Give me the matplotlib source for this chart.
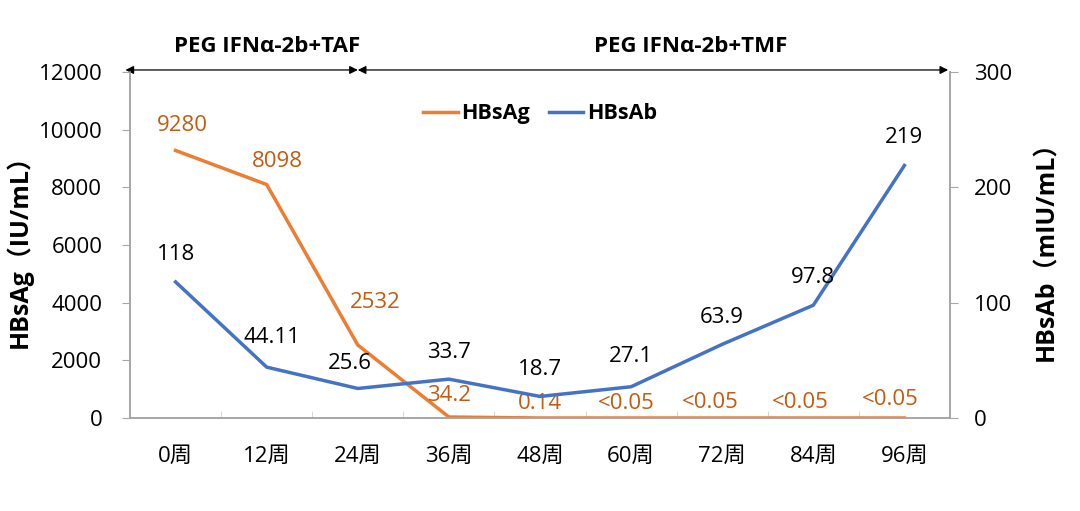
import numpy as np
import matplotlib
matplotlib.use('Agg')
from matplotlib import pyplot as plt
from matplotlib.ticker import MultipleLocator

plt.rcParams['font.family'] = ['Open Sans', 'Noto Sans CJK SC', 'DejaVu Sans']

weeks = ['0周', '12周', '24周', '36周', '48周', '60周', '72周', '84周', '96周']
hbsag = [9280, 8098, 2532, 34.2, 0.14, 0.05, 0.05, 0.05, 0.05]
hbsag_labels = ['9280', '8098', '2532', '34.2', '0.14', '<0.05', '<0.05', '<0.05', '<0.05']
hbsab = [118, 44.11, 25.6, 33.7, 18.7, 27.1, 63.9, 97.8, 219]
hbsab_labels = ['118', '44.11', '25.6', '33.7', '18.7', '27.1', '63.9', '97.8', '219']

# label offsets in pixels (dx, dy)
ag_off = [(7, 25), (11, 23), (17, 43), (0, 22), (0, 14), (-5, 14), (-12, 15), (-13, 15), (-14, 18)]
ab_off = [(0, 27), (5, 30), (-8, 25), (0, 27), (0, 27), (0, 30), (0, 27), (0, 28), (0, 28)]

orange = '#ED7D31'
orange_txt = '#C55A11'
blue = '#4472C4'
gray = '#A6A6A6'

fig = plt.figure(figsize=(10.8, 5.11), dpi=100)
ax = fig.add_axes([0.1204, 0.182, 0.7592, 0.677])
ax2 = ax.twinx()

x = np.arange(len(weeks))
ax.plot(x, hbsag, color=orange, lw=2.5, label='HBsAg', zorder=3)
ax2.plot(x, hbsab, color=blue, lw=2.5, label='HBsAb', zorder=3)

for i in range(len(x)):
    ax.annotate(hbsag_labels[i], (x[i], hbsag[i]), xytext=ag_off[i], textcoords='offset pixels',
                ha='center', va='center', fontsize=16, color=orange_txt)
    ax2.annotate(hbsab_labels[i], (x[i], hbsab[i]), xytext=ab_off[i], textcoords='offset pixels',
                 ha='center', va='center', fontsize=16, color='black')

ax.set_xlim(-0.5, 8.5)
ax.set_ylim(0, 12000)
ax2.set_ylim(0, 300)
ax.yaxis.set_major_locator(MultipleLocator(2000))
ax2.yaxis.set_major_locator(MultipleLocator(100))

ax.set_xticks(x)
ax.set_xticklabels(weeks, fontsize=16)
ax.tick_params(axis='x', length=0, pad=20)
ax.set_xticks(np.arange(-0.5, 8.6, 0.5), minor=True)
ax.tick_params(axis='x', which='minor', direction='in', length=5, color='#D0D0D0')

ax.tick_params(axis='y', labelsize=16, length=6, color=gray, pad=14)
ax2.tick_params(axis='y', labelsize=16, length=6, color=gray, pad=11)

for a in (ax, ax2):
    a.spines['top'].set_visible(False)
    for s in ('left', 'right', 'bottom'):
        a.spines[s].set_color(gray)
        a.spines[s].set_linewidth(1.2)

ax.set_ylabel('HBsAg（IU/mL）', fontsize=18, fontweight='bold', labelpad=4)
ax2.set_ylabel('HBsAb（mIU/mL）', fontsize=18, fontweight='bold', labelpad=16)

h1, l1 = ax.get_legend_handles_labels()
h2, l2 = ax2.get_legend_handles_labels()
ax.legend(h1 + h2, l1 + l2, loc='center', bbox_to_anchor=(0.5, 0.88), ncol=2, frameon=False,
          prop={'size': 15.5, 'weight': 'bold'}, handlelength=1.6, handletextpad=0.15,
          columnspacing=0.9)

# treatment period arrows
tr = ax.get_xaxis_transform()
ax.annotate('', xy=(-0.55, 1.006), xytext=(2.0, 1.006), xycoords=tr, textcoords=tr,
            arrowprops=dict(arrowstyle='<|-|>', color='black', lw=0.9, mutation_scale=12,
                            shrinkA=0, shrinkB=0), annotation_clip=False)
ax.annotate('', xy=(2.0, 1.006), xytext=(8.48, 1.006), xycoords=tr, textcoords=tr,
            arrowprops=dict(arrowstyle='<|-|>', color='black', lw=0.9, mutation_scale=12,
                            shrinkA=0, shrinkB=0), annotation_clip=False)
ax.text(1.0, 1.075, 'PEG IFNα-2b+TAF', transform=tr, ha='center', va='center',
        fontsize=16, fontweight='bold')
ax.text(5.65, 1.075, 'PEG IFNα-2b+TMF', transform=tr, ha='center', va='center',
        fontsize=16, fontweight='bold')

fig.savefig('out.png', dpi=100)
